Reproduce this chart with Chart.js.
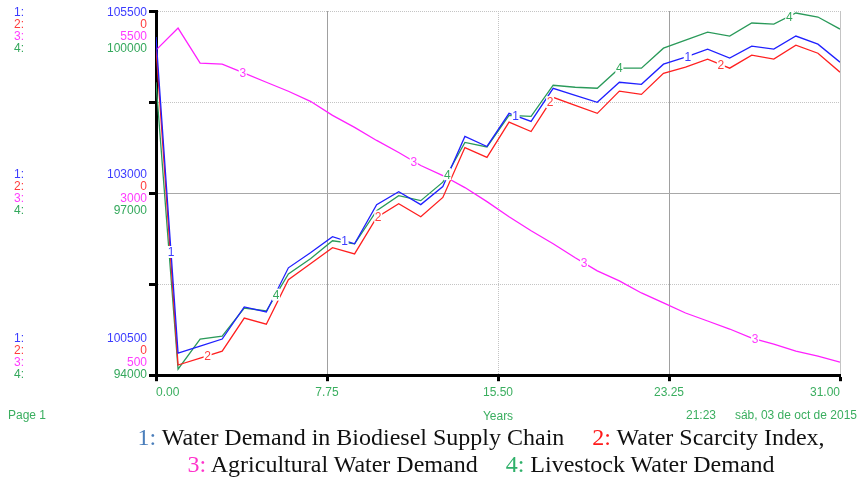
<!DOCTYPE html>
<html>
<head>
<meta charset="utf-8">
<script src="https://cdn.jsdelivr.net/npm/chart.js@4.4.0/dist/chart.umd.min.js"></script>
<style>
    body { margin: 0; background: #fff; }
    #container { width: 858px; height: 478px; position: relative; overflow: hidden; }
    #myChart { display: block; position: absolute; left: 0; top: 0; }
    #legend {
        position: absolute;
        left: 0;
        top: 424px;
        width: 858px;
        font-family: "Liberation Serif", "Times New Roman", serif;
        font-size: 24px;
        line-height: 27px;
        color: #111;
        text-align: center;
        text-indent: 104px;
        white-space: nowrap;
    }
    #legend .gap { margin-left: 22px; }
</style>
</head>
<body>
<div id="container">
    <canvas id="myChart" width="858" height="428"></canvas>
    <div id="legend">
        <div><span style="color:#4a7ebb">1:</span> Water Demand in Biodiesel Supply Chain <span class="gap" style="color:#ff1a1a">2:</span> Water Scarcity Index,</div>
        <div><span style="color:#ff33cc">3:</span> Agricultural Water Demand <span class="gap" style="color:#2fb06a">4:</span> Livestock Water Demand</div>
    </div>
</div>
<script>
// yearly values
const years = [0, 1, 2, 3, 4, 5, 6, 7, 8, 9, 10, 11, 12, 13, 14, 15,
    16, 17, 18, 19, 20, 21, 22, 23, 24, 25, 26, 27, 28, 29, 30, 31];

const biodieselDemand = [105142, 100803, 100899, 100996, 101437, 101368, 101974, 102180,
    102401, 102304, 102842, 103020, 102842, 103090, 103778, 103640,
    104095, 103985, 104439, 104343, 104247, 104522, 104494, 104770,
    104866, 104977, 104853, 105018, 104977, 105156, 105045, 104798];

const scarcityIndex = [0.0901, 0.0028, 0.0047, 0.0066, 0.0157, 0.0140, 0.0262, 0.0306,
    0.0350, 0.0333, 0.0433, 0.0471, 0.0435, 0.0488, 0.0625, 0.0598,
    0.0695, 0.0669, 0.0763, 0.0741, 0.0719, 0.0780, 0.0771, 0.0829,
    0.0846, 0.0868, 0.0843, 0.0879, 0.0868, 0.0906, 0.0884, 0.0832];

const agriDemand = [4963, 5266, 4784, 4770, 4646, 4522, 4398, 4260,
    4067, 3902, 3723, 3558, 3379, 3241, 3076, 2883,
    2676, 2483, 2304, 2112, 1933, 1795, 1629, 1492,
    1354, 1244, 1134, 1010, 927, 831, 762, 679];

const livestockDemand = [98826, 94099, 94595, 94645, 95107, 95058, 95669, 95917,
    96215, 96165, 96711, 96959, 96876, 97180, 97835, 97760,
    98281, 98264, 98777, 98744, 98727, 99058, 99058, 99388,
    99521, 99653, 99587, 99802, 99785, 99967, 99901, 99702];

// axis labels shown at top / middle / bottom of the plot
const blueTicks = [105500, 103000, 100500];
const redTicks = [0, 0, 0];
const agriTicks = [5500, 3000, 500];
const livestockTicks = [100000, 97000, 94000];
const gridTicks = [100500, 101750, 103000, 104250, 105500];
const xTicks = [0, 7.75, 15.5, 23.25, 31];

// where the little series numbers sit on each line (in years)
const blueLabelAt = [0.68, 8.55, 16.3, 24.1];
const redLabelAt = [2.34, 10.07, 17.86, 25.6];
const agriLabelAt = [3.93, 11.68, 19.4, 27.15];
const livestockLabelAt = [5.44, 13.2, 21.0, 28.7];

const series = [
    { num: '1', data: biodieselDemand, axis: 'y1', line: '#2020ff', text: '#3c3cff', ticks: blueTicks, at: blueLabelAt },
    { num: '2', data: scarcityIndex, axis: 'y2', line: '#ff2020', text: '#ff3c3c', ticks: redTicks, at: redLabelAt },
    { num: '3', data: agriDemand, axis: 'y3', line: '#ff20ff', text: '#ff3cff', ticks: agriTicks, at: agriLabelAt },
    { num: '4', data: livestockDemand, axis: 'y4', line: '#2a9a5a', text: '#34a85c', ticks: livestockTicks, at: livestockLabelAt }
];

const footGreen = '#3aae5f';
const sans = '"Liberation Sans", Arial, sans-serif';

const vensimLabels = {
    id: 'vensimLabels',
    afterDatasetsDraw(chart) {
        const ctx = chart.ctx;
        const x = chart.scales.x;
        ctx.save();
        ctx.font = '12px ' + sans;
        ctx.textAlign = 'center';
        ctx.textBaseline = 'middle';
        series.forEach(s => {
            const scale = chart.scales[s.axis];
            s.at.forEach(t => {
                const i = Math.floor(t);
                const f = t - i;
                const v = s.data[i] + (s.data[i + 1] - s.data[i]) * f;
                const px = x.getPixelForValue(t);
                const py = scale.getPixelForValue(v);
                ctx.fillStyle = '#fff';
                ctx.fillRect(px - 4, py - 6, 8, 12);
                ctx.fillStyle = s.text;
                ctx.fillText(s.num, px, py + 1);
            });
        });
        ctx.restore();
    },
    afterDraw(chart) {
        const ctx = chart.ctx;
        const y1 = chart.scales.y1;
        const offsets = [[2, 14, 26, 38], [-18, -6, 6, 18], [-37, -25, -13, -1]];
        ctx.save();
        ctx.font = '12px ' + sans;
        ctx.textBaseline = 'middle';
        blueTicks.forEach((tv, k) => {
            const base = y1.getPixelForValue(tv);
            series.forEach((s, j) => {
                const yy = base + offsets[k][j];
                ctx.fillStyle = s.text;
                ctx.textAlign = 'left';
                ctx.fillText(s.num + ':', 14, yy);
                ctx.textAlign = 'right';
                ctx.fillText(String(s.ticks[k]), 147, yy);
            });
        });
        // footer line
        ctx.font = '12px ' + sans;
        ctx.fillStyle = footGreen;
        ctx.textAlign = 'left';
        ctx.fillText('Page 1', 8, 416);
        ctx.fillText('21:23', 686, 416);
        ctx.textAlign = 'right';
        ctx.fillText('sáb, 03 de oct de 2015', 857, 416);
        ctx.restore();
    }
};

const ctx = document.getElementById('myChart').getContext('2d');
const myChart = new Chart(ctx, {
    type: 'line',
    data: {
        datasets: series.map(s => ({
            label: s.num,
            data: years.map((yr, i) => ({ x: yr, y: s.data[i] })),
            yAxisID: s.axis,
            borderColor: s.line,
            borderWidth: 1.3,
            pointRadius: 0,
            tension: 0,
            fill: false
        }))
    },
    options: {
        responsive: false,
        animation: false,
        layout: { padding: { left: 149, right: 18, top: 11, bottom: 4 } },
        plugins: {
            legend: { display: false },
            tooltip: { enabled: false }
        },
        scales: {
            x: {
                type: 'linear',
                min: 0,
                max: 31,
                afterBuildTicks: scale => { scale.ticks = xTicks.map(v => ({ value: v })); },
                ticks: {
                    color: footGreen,
                    font: { family: sans, size: 12 },
                    padding: 4,
                    align: 'inner',
                    maxRotation: 0,
                    callback: v => v.toFixed(2)
                },
                grid: {
                    color: c => (c.index === 1 || c.index === 3) ? '#a0a0a0' : '#c4c4c4',
                    lineWidth: 1,
                    tickColor: '#000',
                    tickWidth: 3,
                    tickLength: 6
                },
                border: {
                    color: '#000',
                    width: 3,
                    dash: c => (c.index === 1 || c.index === 3 || c.index === 4) ? [] : [1, 1]
                },
                title: {
                    display: true,
                    text: 'Years',
                    color: footGreen,
                    font: { family: sans, size: 12 },
                    padding: { top: 6, bottom: 0 }
                }
            },
            y1: {
                position: 'left',
                min: 100500,
                max: 105500,
                afterBuildTicks: scale => { scale.ticks = gridTicks.map(v => ({ value: v })); },
                ticks: { display: false },
                grid: {
                    color: c => c.index === 2 ? '#a8a8a8' : '#c4c4c4',
                    lineWidth: 1,
                    tickColor: '#000',
                    tickWidth: 3,
                    tickLength: 7
                },
                border: {
                    color: '#000',
                    width: 3,
                    dash: c => c.index === 2 ? [] : [1, 1]
                }
            },
            y2: { display: false, min: 0, max: 0.1 },
            y3: { display: false, min: 500, max: 5500 },
            y4: { display: false, min: 94000, max: 100000 }
        }
    },
    plugins: [vensimLabels]
});
</script>
</body>
</html>
